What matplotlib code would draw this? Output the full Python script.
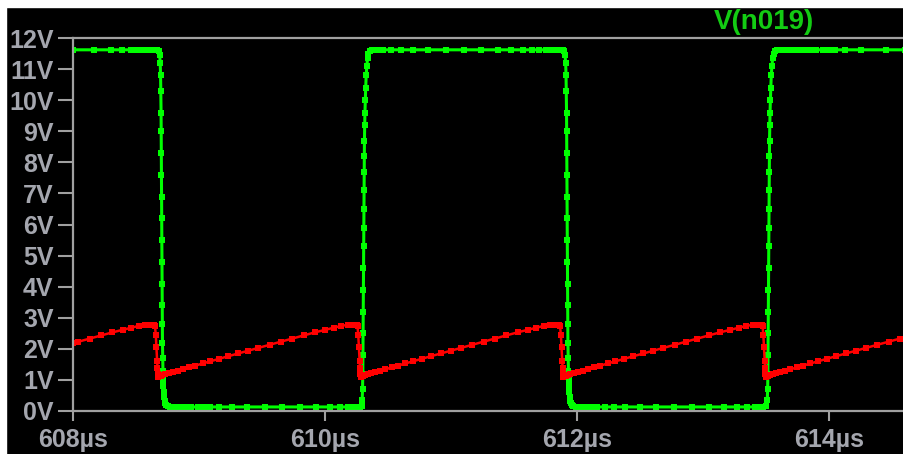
import matplotlib
matplotlib.use('Agg')
import matplotlib.pyplot as plt
from matplotlib.patches import Rectangle

# LTspice style: bold Arial-like labels
plt.rcParams['font.family'] = ['Liberation Sans', 'DejaVu Sans']
plt.rcParams['font.weight'] = 'bold'

# Data (time in us, voltage in V)
# V(n019) - square wave
green_t = [608.00, 608.17, 608.30, 608.39, 608.46, 608.50, 608.54, 608.57, 608.59, 608.61,
           608.63, 608.645, 608.66, 608.67, 608.68, 608.688,
           608.692, 608.695, 608.697, 608.699, 608.700, 608.701, 608.702, 608.703, 608.704, 608.705,
           608.706, 608.707, 608.708, 608.709, 608.710, 608.712, 608.714, 608.716, 608.718, 608.720,
           608.723, 608.727, 608.732, 608.74, 608.75,
           608.77, 608.79, 608.81, 608.84, 608.87, 608.90, 608.94, 608.99, 609.04, 609.09,
           609.16, 609.26, 609.38, 609.52, 609.66, 609.80, 609.93, 610.04, 610.12, 610.18,
           610.23, 610.26, 610.28, 610.29,
           610.295, 610.298, 610.300, 610.301, 610.302, 610.303, 610.304, 610.305, 610.306, 610.307,
           610.308, 610.309, 610.310, 610.311, 610.313, 610.315, 610.317, 610.320, 610.323, 610.327,
           610.332, 610.338, 610.345, 610.355, 610.37,
           610.39, 610.42, 610.46, 610.52, 610.60, 610.70, 610.82, 610.96, 611.10, 611.24,
           611.37, 611.48, 611.57, 611.64, 611.70, 611.75, 611.79, 611.82, 611.85, 611.87,
           611.885, 611.895, 611.905,
           611.910, 611.913, 611.915, 611.917, 611.918, 611.919, 611.920, 611.921, 611.922, 611.923,
           611.924, 611.925, 611.926, 611.927, 611.928, 611.930, 611.932, 611.934, 611.936, 611.938,
           611.941, 611.945, 611.950, 611.958, 611.968,
           611.99, 612.01, 612.04, 612.07, 612.11, 612.16, 612.22, 612.29, 612.38, 612.50,
           612.63, 612.77, 612.91, 613.05, 613.17, 613.27, 613.35, 613.41, 613.45, 613.48,
           613.50,
           613.510, 613.513, 613.515, 613.516, 613.517, 613.518, 613.519, 613.520, 613.521, 613.522,
           613.523, 613.524, 613.525, 613.526, 613.528, 613.530, 613.532, 613.535, 613.538, 613.542,
           613.547, 613.553, 613.560, 613.570, 613.585,
           613.60, 613.62, 613.65, 613.68, 613.72, 613.76, 613.80, 613.85, 613.90, 613.95,
           614.00, 614.05, 614.13, 614.25, 614.45, 614.60]
green_v = [11.62, 11.62, 11.62, 11.62, 11.62, 11.62, 11.62, 11.62, 11.62, 11.62,
           11.62, 11.62, 11.62, 11.61, 11.58, 11.45,
           11.2, 10.8, 10.3, 9.6, 9.0, 8.3, 7.6, 6.9, 6.2, 5.5,
           4.8, 4.1, 3.4, 2.8, 2.2, 1.7, 1.3, 1.0, 0.8, 0.6,
           0.45, 0.33, 0.25, 0.2, 0.16,
           0.14, 0.13, 0.13, 0.13, 0.13, 0.13, 0.13, 0.13, 0.13, 0.13,
           0.13, 0.13, 0.13, 0.13, 0.13, 0.13, 0.13, 0.13, 0.13, 0.13,
           0.13, 0.13, 0.14, 0.17,
           0.35, 0.7, 1.2, 1.8, 2.5, 3.2, 3.9, 4.6, 5.3, 5.9,
           6.5, 7.1, 7.7, 8.2, 8.7, 9.2, 9.6, 10.0, 10.4, 10.8,
           11.1, 11.35, 11.5, 11.58, 11.61,
           11.62, 11.62, 11.62, 11.62, 11.62, 11.62, 11.62, 11.62, 11.62, 11.62,
           11.62, 11.62, 11.62, 11.62, 11.62, 11.62, 11.62, 11.62, 11.62, 11.62,
           11.61, 11.58, 11.45,
           11.2, 10.8, 10.3, 9.6, 9.0, 8.3, 7.6, 6.9, 6.2, 5.5,
           4.8, 4.1, 3.4, 2.8, 2.2, 1.7, 1.3, 1.0, 0.8, 0.6,
           0.45, 0.33, 0.25, 0.2, 0.16,
           0.14, 0.13, 0.13, 0.13, 0.13, 0.13, 0.13, 0.13, 0.13, 0.13,
           0.13, 0.13, 0.13, 0.13, 0.13, 0.13, 0.13, 0.13, 0.13, 0.14,
           0.17,
           0.35, 0.7, 1.2, 1.8, 2.5, 3.2, 3.9, 4.6, 5.3, 5.9,
           6.5, 7.1, 7.7, 8.2, 8.7, 9.2, 9.6, 10.0, 10.4, 10.8,
           11.1, 11.35, 11.5, 11.58, 11.61,
           11.62, 11.62, 11.62, 11.62, 11.62, 11.62, 11.62, 11.62, 11.62, 11.62,
           11.62, 11.62, 11.62, 11.62, 11.62, 11.62]

# second trace - sawtooth
red_t = [608.000, 608.043, 608.133, 608.223, 608.313, 608.393, 608.463, 608.523, 608.573, 608.613,
         608.643, 608.651, 608.657, 608.662, 608.667, 608.670, 608.673,
         608.676, 608.685, 608.695, 608.710, 608.730, 608.760, 608.790, 608.830, 608.870, 608.920,
         608.970, 609.030, 609.090, 609.160, 609.230, 609.310, 609.390, 609.470, 609.560, 609.650,
         609.740, 609.830, 609.920, 610.000, 610.070, 610.130, 610.180, 610.220, 610.250,
         610.258, 610.264, 610.269, 610.274, 610.277, 610.280,
         610.284, 610.293, 610.303, 610.318, 610.338, 610.368, 610.398, 610.438, 610.478, 610.528,
         610.578, 610.638, 610.698, 610.768, 610.838, 610.918, 610.998, 611.078, 611.168, 611.258,
         611.348, 611.438, 611.528, 611.608, 611.678, 611.738, 611.788, 611.828, 611.858,
         611.866, 611.872, 611.877, 611.882, 611.885, 611.888,
         611.891, 611.900, 611.910, 611.925, 611.945, 611.975, 612.005, 612.045, 612.085, 612.135,
         612.185, 612.245, 612.305, 612.375, 612.445, 612.525, 612.605, 612.685, 612.775, 612.865,
         612.955, 613.045, 613.135, 613.215, 613.285, 613.345, 613.395, 613.435, 613.465,
         613.473, 613.479, 613.484, 613.489, 613.492, 613.495,
         613.499, 613.508, 613.518, 613.533, 613.553, 613.583, 613.613, 613.653, 613.693, 613.743,
         613.793, 613.853, 613.913, 613.983, 614.053, 614.133, 614.213, 614.293, 614.383, 614.473,
         614.563, 614.653]
red_v = [2.19, 2.23, 2.33, 2.43, 2.53, 2.61, 2.68, 2.74, 2.77, 2.78,
         2.78, 2.72, 2.45, 2.05, 1.62, 1.38, 1.20,
         1.10, 1.12, 1.14, 1.16, 1.18, 1.21, 1.25, 1.29, 1.34, 1.40,
         1.46, 1.53, 1.60, 1.68, 1.76, 1.85, 1.94, 2.03, 2.13, 2.23,
         2.33, 2.43, 2.53, 2.61, 2.68, 2.74, 2.77, 2.78, 2.78,
         2.72, 2.45, 2.05, 1.62, 1.38, 1.20,
         1.10, 1.12, 1.14, 1.16, 1.18, 1.21, 1.25, 1.29, 1.34, 1.40,
         1.46, 1.53, 1.60, 1.68, 1.76, 1.85, 1.94, 2.03, 2.13, 2.23,
         2.33, 2.43, 2.53, 2.61, 2.68, 2.74, 2.77, 2.78, 2.78,
         2.72, 2.45, 2.05, 1.62, 1.38, 1.20,
         1.10, 1.12, 1.14, 1.16, 1.18, 1.21, 1.25, 1.29, 1.34, 1.40,
         1.46, 1.53, 1.60, 1.68, 1.76, 1.85, 1.94, 2.03, 2.13, 2.23,
         2.33, 2.43, 2.53, 2.61, 2.68, 2.74, 2.77, 2.78, 2.78,
         2.72, 2.45, 2.05, 1.62, 1.38, 1.20,
         1.10, 1.12, 1.14, 1.16, 1.18, 1.21, 1.25, 1.29, 1.34, 1.40,
         1.46, 1.53, 1.60, 1.68, 1.76, 1.85, 1.94, 2.03, 2.13, 2.23,
         2.33, 2.43]

x_ticks = [608, 610, 612, 614]
x_labels = ['608µs', '610µs', '612µs', '614µs']
y_ticks = list(range(0, 13))
y_labels = [str(v) + 'V' for v in y_ticks]
trace_name = 'V(n019)'

axis_gray = '#a0a0a0'
label_gray = '#a4a6ae'

# Figure and plot area (pixel layout of the LTspice window)
fig = plt.figure(figsize=(9.04, 4.54), dpi=100, facecolor='black')
ax = fig.add_axes([73 / 904, 43 / 454, 831 / 904, 373 / 454], facecolor='black')

# Plot the traces (red drawn over green)
ax.plot(green_t, green_v, color='#00ff00', lw=2.2, marker='s', ms=4.2, mec='#00ff00', mew=0)
ax.plot(red_t, red_v, color='#ff0000', lw=1.8, marker='s', ms=3.8, mec='#ff0000', mew=0)

ax.set_xlim(608, 608 + 831 / 126)
ax.set_ylim(0, 12)

ax.set_xticks(x_ticks)
ax.set_xticklabels(x_labels)
ax.set_yticks(y_ticks)
ax.set_yticklabels(y_labels)

# axis lines
for side in ['left', 'top', 'bottom']:
    ax.spines[side].set_color(axis_gray)
    ax.spines[side].set_linewidth(1.6)
ax.spines['right'].set_visible(False)

ax.tick_params(axis='y', direction='out', length=11, width=1.5, color=axis_gray,
               pad=3, labelcolor=label_gray, labelsize=18)
ax.tick_params(axis='x', direction='out', length=7, width=1.5, color=axis_gray,
               pad=5, labelcolor=label_gray, labelsize=18)

# Trace name on top
fig.text(764 / 904, 1 - 22 / 454, trace_name, color='#13cc13', fontsize=20,
         fontweight='bold', ha='center', va='center')

# white window border at top and left
fig.add_artist(Rectangle((0, 1 - 7 / 454), 1, 7 / 454, transform=fig.transFigure,
                         color='white', zorder=10))
fig.add_artist(Rectangle((0, 0), 6 / 904, 1, transform=fig.transFigure,
                         color='white', zorder=10))

fig.savefig('out.png', dpi=100, facecolor=fig.get_facecolor())
